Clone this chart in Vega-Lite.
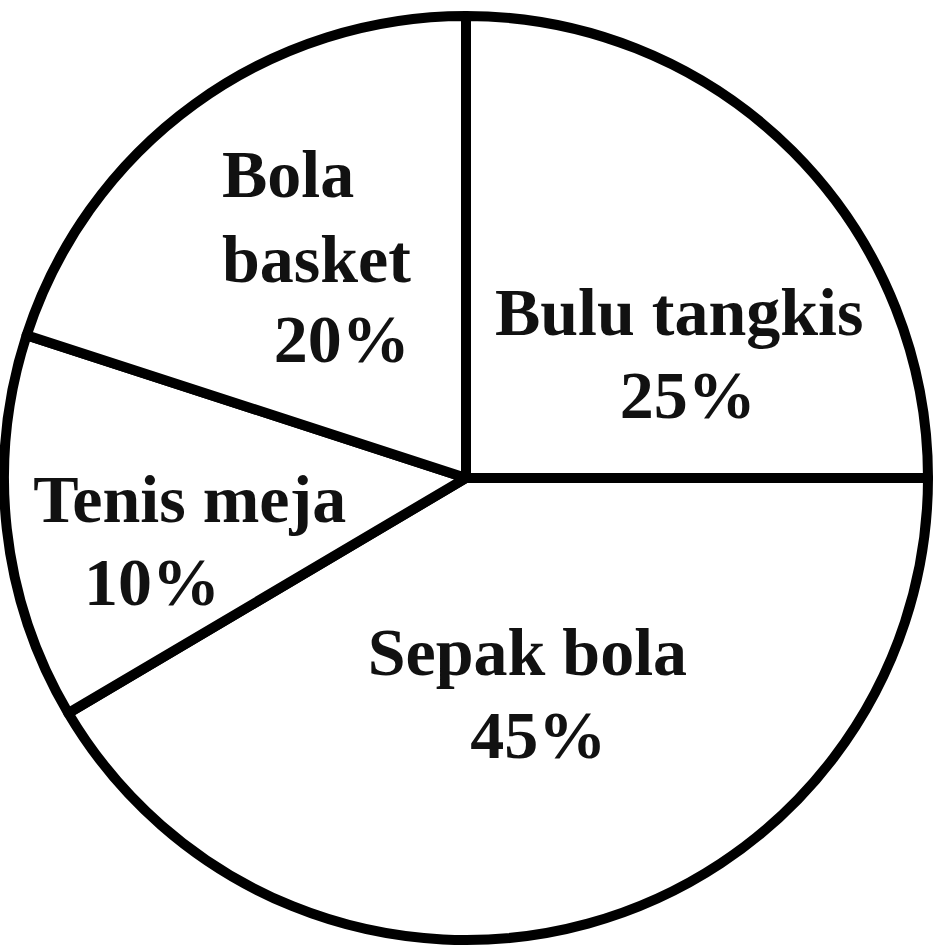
{
  "$schema": "https://vega.github.io/schema/vega-lite/v6.json",
  "autosize": {"type": "fit", "contains": "padding"},
  "width": 944,
  "height": 948,
  "padding": {"left": 0, "right": 12, "top": 8, "bottom": 0},
  "background": "white",
  "config": {"view": {"stroke": null}},
  "data": {
    "values": [
      {"idx": 1, "sport": "Bulu tangkis", "name": "Bulu tangkis", "pct": "25%", "share": 25},
      {"idx": 2, "sport": "Sepak bola", "name": "Sepak bola", "pct": "45%", "share": 41.5},
      {"idx": 3, "sport": "Tenis meja", "name": "Tenis meja", "pct": "10%", "share": 13.5},
      {"idx": 4, "sport": "Bola basket", "name": "Bola\nbasket", "pct": "20%", "share": 20}
    ]
  },
  "encoding": {
    "theta": {"field": "share", "type": "quantitative", "stack": true},
    "order": {"field": "idx", "type": "quantitative"}
  },
  "layer": [
    {
      "mark": {"type": "arc", "outerRadius": 462, "fill": "white", "stroke": "black", "strokeWidth": 10, "strokeJoin": "round"}
    },
    {
      "mark": {"type": "text", "radius": 252, "dx": 35, "dy": 35, "align": "center", "baseline": "alphabetic", "font": "Liberation Serif", "fontWeight": "bold", "fontSize": 68, "fill": "#111"},
      "encoding": {"text": {"condition": {"test": "datum.sport === 'Bulu tangkis'", "field": "name"}, "value": ""}}
    },
    {
      "mark": {"type": "text", "radius": 199, "dx": 81, "dy": 81, "align": "center", "baseline": "alphabetic", "font": "Liberation Serif", "fontWeight": "bold", "fontSize": 68, "fill": "#111"},
      "encoding": {"text": {"condition": {"test": "datum.sport === 'Bulu tangkis'", "field": "pct"}, "value": ""}}
    },
    {
      "mark": {"type": "text", "radius": 206, "dx": 7, "dy": -2, "align": "center", "baseline": "alphabetic", "font": "Liberation Serif", "fontWeight": "bold", "fontSize": 68, "fill": "#111"},
      "encoding": {"text": {"condition": {"test": "datum.sport === 'Sepak bola'", "field": "name"}, "value": ""}}
    },
    {
      "mark": {"type": "text", "radius": 289, "dx": -4, "dy": 1, "align": "center", "baseline": "alphabetic", "font": "Liberation Serif", "fontWeight": "bold", "fontSize": 68, "fill": "#111"},
      "encoding": {"text": {"condition": {"test": "datum.sport === 'Sepak bola'", "field": "pct"}, "value": ""}}
    },
    {
      "mark": {"type": "text", "radius": 279, "dx": 1, "dy": 13, "align": "center", "baseline": "alphabetic", "font": "Liberation Serif", "fontWeight": "bold", "fontSize": 68, "fill": "#111"},
      "encoding": {"text": {"condition": {"test": "datum.sport === 'Tenis meja'", "field": "name"}, "value": ""}}
    },
    {
      "mark": {"type": "text", "radius": 326, "dx": 10, "dy": 91, "align": "center", "baseline": "alphabetic", "font": "Liberation Serif", "fontWeight": "bold", "fontSize": 68, "fill": "#111"},
      "encoding": {"text": {"condition": {"test": "datum.sport === 'Tenis meja'", "field": "pct"}, "value": ""}}
    },
    {
      "mark": {"type": "text", "radius": 371, "dx": -26, "dy": 19, "align": "left", "baseline": "alphabetic", "lineBreak": "\n", "lineHeight": 85, "font": "Liberation Serif", "fontWeight": "bold", "fontSize": 68, "fill": "#111"},
      "encoding": {"text": {"condition": {"test": "datum.sport === 'Bola basket'", "field": "name"}, "value": ""}}
    },
    {
      "mark": {"type": "text", "radius": 167, "dx": -26, "dy": 19, "align": "center", "baseline": "alphabetic", "font": "Liberation Serif", "fontWeight": "bold", "fontSize": 68, "fill": "#111"},
      "encoding": {"text": {"condition": {"test": "datum.sport === 'Bola basket'", "field": "pct"}, "value": ""}}
    }
  ]
}
